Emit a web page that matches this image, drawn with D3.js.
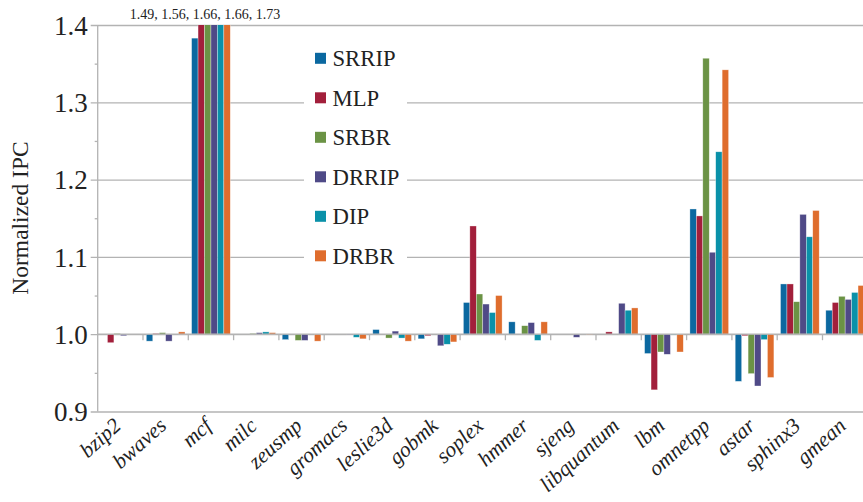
<!DOCTYPE html>
<html>
<head>
<meta charset="utf-8">
<script src="https://cdn.jsdelivr.net/npm/d3@7"></script>
<style>
  html, body { margin: 0; padding: 0; background: #fff; }
  svg { display: block; }
  text { font-family: "Liberation Serif", "Times New Roman", serif; fill: #222; }
</style>
</head>
<body>
<svg id="chart" width="863" height="502"></svg>
<script>
// Benchmarks on the x axis
const categories = ["bzip2", "bwaves", "mcf", "milc", "zeusmp", "gromacs", "leslie3d", "gobmk",
  "soplex", "hmmer", "sjeng", "libquantum", "lbm", "omnetpp", "astar", "sphinx3", "gmean"];

// Replacement policies (legend order)
const seriesNames = ["SRRIP", "MLP", "SRBR", "DRRIP", "DIP", "DRBR"];
const seriesColors = ["#0b68a0", "#a21f3b", "#6b9345", "#4f4a87", "#0a91a9", "#df6d2d"];

// Normalized IPC per policy, one value per benchmark
const srrip = [1.000, 0.991, 1.383, 1.000, 0.993, 1.000, 1.006, 0.994, 1.041, 1.016, 1.000, 1.000, 0.975, 1.162, 0.939, 1.065, 1.031];
const mlp   = [0.989, 1.001, 1.490, 1.000, 1.000, 1.000, 1.000, 0.998, 1.140, 1.000, 1.000, 1.003, 0.928, 1.153, 0.998, 1.065, 1.041];
const srbr  = [1.001, 1.002, 1.560, 1.001, 0.992, 1.000, 0.995, 1.000, 1.052, 1.011, 1.000, 1.000, 0.977, 1.357, 0.949, 1.042, 1.049];
const drrip = [0.998, 0.991, 1.660, 1.002, 0.992, 0.999, 1.004, 0.985, 1.039, 1.015, 0.996, 1.040, 0.974, 1.106, 0.933, 1.155, 1.045];
const dip   = [1.000, 1.000, 1.660, 1.003, 1.000, 0.996, 0.995, 0.987, 1.028, 0.992, 1.000, 1.031, 0.999, 1.236, 0.993, 1.126, 1.054];
const drbr  = [1.000, 1.003, 1.730, 1.002, 0.991, 0.994, 0.991, 0.990, 1.050, 1.016, 0.999, 1.034, 0.977, 1.342, 0.944, 1.160, 1.063];
const seriesValues = [srrip, mlp, srbr, drrip, dip, drbr];

// Axis ticks
const yMajorTicks = [0.9, 1.0, 1.1, 1.2, 1.3, 1.4];
const yMinorTicks = [0.95, 1.05, 1.15, 1.25, 1.35];
const yDomain = [0.9, 1.4];
const baseline = 1.0;

// mcf values that run past the top of the axis, written out above the bars
const clippedCategory = "mcf";
const clippedIndex = categories.indexOf(clippedCategory);
const clippedLabel = seriesValues
  .map(s => s[clippedIndex])
  .filter(v => v > yDomain[1])
  .map(v => v.toFixed(2)).join(", ");

const svg = d3.select("#chart");
const W = 863, H = 502;
const plot = { left: 97.7, right: 867.8, top: 25, bottom: 411.5 };

const x0 = d3.scaleBand().domain(categories).range([plot.left, plot.right]).padding(0);
const x1 = d3.scaleBand().domain(seriesNames)
  .range([x0.bandwidth() * 0.073, x0.bandwidth() * 0.927]).padding(0);
const y = d3.scaleLinear().domain(yDomain).range([plot.bottom, plot.top]);

const gridColor = "#b3b3b3";

// Horizontal gridlines with major ticks poking out to the left
const gGrid = svg.append("g").attr("transform", `translate(${plot.left},0)`)
  .call(d3.axisLeft(y).tickValues(yMajorTicks).tickSize(-(W - plot.left)).tickFormat(""));
gGrid.select(".domain").remove();
gGrid.selectAll(".tick line").attr("stroke", gridColor).attr("stroke-width", 1.3).attr("x1", -7);

// Minor ticks
const gMinor = svg.append("g").attr("transform", `translate(${plot.left},0)`)
  .call(d3.axisLeft(y).tickValues(yMinorTicks).tickSize(3).tickFormat(""));
gMinor.select(".domain").remove();
gMinor.selectAll(".tick line").attr("stroke", gridColor).attr("stroke-width", 1.3);

// Left axis line
svg.append("line")
  .attr("x1", plot.left).attr("x2", plot.left)
  .attr("y1", plot.top).attr("y2", plot.bottom)
  .attr("stroke", gridColor).attr("stroke-width", 1.3);

// Y tick labels
const gY = svg.append("g").attr("transform", `translate(${plot.left},0)`)
  .call(d3.axisLeft(y).tickValues(yMajorTicks).tickSize(0).tickPadding(10).tickFormat(d3.format(".1f")));
gY.select(".domain").remove();
gY.selectAll("text")
  .style("font-family", '"Liberation Serif", serif')
  .style("font-size", "27px").attr("fill", "#333")
  .attr("dy", "0.34em");

// Y axis title
svg.append("text")
  .attr("transform", `translate(28,218) rotate(-90)`)
  .attr("text-anchor", "middle")
  .style("font-size", "23.5px").attr("fill", "#333")
  .text("Normalized IPC");

// Bars, clipped to the plotting area
svg.append("clipPath").attr("id", "plotclip")
  .append("rect").attr("x", plot.left).attr("y", plot.top)
  .attr("width", W - plot.left).attr("height", plot.bottom - plot.top);

const gBars = svg.append("g").attr("clip-path", "url(#plotclip)");
const barData = [];
categories.forEach((c, i) => {
  seriesNames.forEach((s, j) => {
    barData.push({ cat: c, series: s, value: seriesValues[j][i], color: seriesColors[j] });
  });
});
gBars.selectAll("rect").data(barData).enter().append("rect")
  .attr("x", d => x0(d.cat) + x1(d.series))
  .attr("width", x1.bandwidth())
  .attr("y", d => y(Math.max(d.value, baseline)))
  .attr("height", d => Math.abs(y(d.value) - y(baseline)))
  .attr("fill", d => d.color)
  .attr("stroke", "#ffffff").attr("stroke-opacity", 0.55).attr("stroke-width", 0.6);

// Baseline with category separator ticks
svg.append("line")
  .attr("x1", plot.left).attr("x2", W)
  .attr("y1", y(baseline)).attr("y2", y(baseline))
  .attr("stroke", gridColor).attr("stroke-width", 1.3);
svg.append("g").selectAll("line").data(categories.slice(1)).enter().append("line")
  .attr("x1", d => x0(d)).attr("x2", d => x0(d))
  .attr("y1", y(baseline)).attr("y2", y(baseline) + 6)
  .attr("stroke", gridColor).attr("stroke-width", 1.3);

// Category labels, slanted
svg.append("g").selectAll("text").data(categories).enter().append("text")
  .attr("transform", d => `translate(${x0(d) + x0.bandwidth() / 2 + 2},${plot.bottom + 16}) rotate(-42)`)
  .attr("text-anchor", "end")
  .style("font-size", "21.5px").style("font-style", "italic").attr("fill", "#333")
  .text(d => d);

// Annotation for the clipped bars
svg.append("text")
  .attr("x", x0(clippedCategory) + x0.bandwidth() / 2 - 6)
  .attr("y", 19)
  .attr("text-anchor", "middle")
  .style("font-size", "14px").attr("fill", "#333")
  .text(clippedLabel);

// Legend
const legend = svg.append("g");
legend.append("rect")
  .attr("x", 304).attr("y", 36).attr("width", 103).attr("height", 238)
  .attr("fill", "#fff");
const items = legend.selectAll("g.item").data(seriesNames).enter().append("g")
  .attr("transform", (d, i) => `translate(315,${58.3 + i * 39.5})`);
items.append("rect")
  .attr("x", 0).attr("y", -5.5).attr("width", 11).attr("height", 11)
  .attr("fill", (d, i) => seriesColors[i]);
items.append("text")
  .attr("x", 17.5).attr("y", 0).attr("dy", "0.35em")
  .style("font-size", "22.7px").attr("fill", "#333")
  .text(d => d);
</script>
</body>
</html>
